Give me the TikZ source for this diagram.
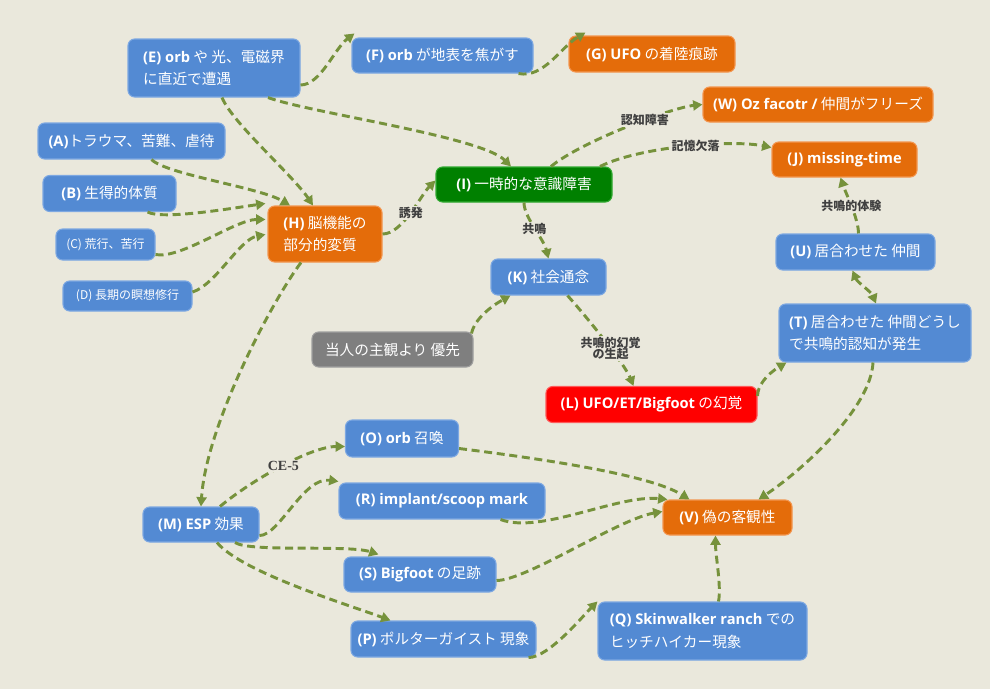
\documentclass[tikz,border=0pt]{standalone}
\usepackage{fontspec}
\setmainfont{Noto Sans CJK JP}
\newfontfamily\latf{Open Sans}
\newfontfamily\cefont{Liberation Serif}
\newcommand{\ltn}[1]{{\latf\bfseries #1}}
\usetikzlibrary{arrows.meta}
\newdimen\pxu \pxu=0.75pt
\definecolor{bg}{RGB}{234,232,220}
\definecolor{boxblue}{RGB}{83,138,211}
\definecolor{boxblueline}{RGB}{125,168,226}
\definecolor{boxorange}{RGB}{228,108,10}
\definecolor{boxorangeline}{RGB}{243,150,80}
\definecolor{boxgreen}{RGB}{0,128,0}
\definecolor{boxgreenline}{RGB}{50,170,50}
\definecolor{boxred}{RGB}{255,0,0}
\definecolor{boxredline}{RGB}{255,90,90}
\definecolor{boxgray}{RGB}{127,127,127}
\definecolor{boxgrayline}{RGB}{160,160,160}
\definecolor{arrowgreen}{RGB}{118,146,60}
\definecolor{labelgray}{RGB}{64,64,64}
\begin{document}
\begin{tikzpicture}[x=0.75pt,y=-0.75pt,
  nbox/.style={rounded corners=5pt, text=white, align=left, inner xsep=3pt, inner ysep=2pt,
    font=\fontsize{11}{17}\selectfont, line width=0.8pt},
  bluebox/.style={nbox, fill=boxblue, draw=boxblueline},
  smallblue/.style={bluebox, font=\fontsize{9}{12}\selectfont},
  orangebox/.style={nbox, fill=boxorange, draw=boxorangeline},
  greenbox/.style={nbox, fill=boxgreen, draw=boxgreenline},
  redbox/.style={nbox, fill=boxred, draw=boxredline},
  graybox/.style={nbox, fill=boxgray, draw=boxgrayline},
  sz/.style 2 args={minimum width=#1\pxu, minimum height=#2\pxu},
  conn/.style={draw=arrowgreen, line width=2.2pt, dash pattern=on 6pt off 3.5pt,
    -{Triangle[length=7pt,width=7.5pt]}},
  biconn/.style={draw=arrowgreen, line width=2.2pt, dash pattern=on 6pt off 3.5pt,
    {Triangle[length=7pt,width=7.5pt]}-{Triangle[length=7pt,width=7.5pt]}},
  lbl/.style={fill=bg, inner sep=1pt, text=labelgray, align=center,
    font=\fontsize{9}{10}\selectfont\bfseries},
]
\fill[bg] (0,0) rectangle (990,689);
\useasboundingbox (0,0) rectangle (990,689);

% nodes
\node[bluebox, sz={172}{58}] (E) at (214,68) {\ltn{(E) orb} や 光、電磁界\\ に直近で遭遇};
\node[bluebox, sz={181}{35}] (F) at (442.5,55.5) {\ltn{(F) orb} が地表を焦がす};
\node[orangebox, sz={166}{36}] (G) at (652,54) {\ltn{(G) UFO} の着陸痕跡};
\node[orangebox, sz={230}{35}] (W) at (818,104.5) {\ltn{(W) Oz facotr /} 仲間がフリーズ};
\node[orangebox, sz={145}{35}] (J) at (844.5,159.5) {\ltn{(J) missing-time}};
\node[bluebox, sz={187}{36}] (A) at (131.5,141) {\ltn{(A)}トラウマ、苦難、虐待};
\node[bluebox, sz={133}{36}] (B) at (109.5,193.5) {\ltn{(B)} 生得的体質};
\node[smallblue, sz={99}{31}] (C) at (105.5,244.5) {(C) 荒行、苦行};
\node[smallblue, sz={129}{30}] (D) at (127.5,296) {(D) 長期の瞑想修行};
\node[orangebox, sz={114}{56}] (H) at (325,234) {\ltn{(H)} 脳機能の\\部分的変質};
\node[greenbox, sz={176}{35}] (I) at (524,184.5) {\ltn{(I)} 一時的な意識障害};
\node[bluebox, sz={115}{36}] (K) at (548.5,277) {\ltn{(K)} 社会通念};
\node[graybox, sz={161}{35}] (N) at (392.5,349.5) {当人の主観より 優先};
\node[redbox, sz={211}{36}] (L) at (651.5,404.5) {\ltn{(L) UFO/ET/Bigfoot} の幻覚};
\node[bluebox, sz={159}{36}] (U) at (855.5,252) {\ltn{(U)} 居合わせた 仲間};
\node[bluebox, sz={192}{58}] (T) at (875,333) {\ltn{(T)} 居合わせた 仲間どうし\\で共鳴的認知が発生};
\node[bluebox, sz={113}{37}] (O) at (402,438.5) {\ltn{(O) orb} 召喚};
\node[bluebox, sz={206}{36}] (R) at (442,501) {\ltn{(R) implant/scoop mark}};
\node[bluebox, sz={152}{35}] (S) at (420,574.5) {\ltn{(S) Bigfoot} の足跡};
\node[bluebox, sz={185}{36}] (P) at (443.5,639) {\ltn{(P)} ポルターガイスト 現象};
\node[bluebox, sz={209}{58}] (Q) at (702.5,631) {\ltn{(Q) Skinwalker ranch} での\\ヒッチハイカー現象};
\node[bluebox, sz={116}{35}] (M) at (201,524.5) {\ltn{(M) ESP} 効果};
\node[orangebox, sz={129}{35}] (V) at (727.5,517.5) {\ltn{(V)} 偽の客観性};

% connectors
\draw[conn] ([shift={(0,17)}]E.east) .. controls +(20,0) and +(-20,15) .. ([shift={(3,-4)}]F.north west);
\draw[conn] ([shift={(-15,0)}]F.south east) .. controls +(25,5) and +(-25,15) .. ([shift={(17,-3)}]G.north west);
\draw[conn] ([shift={(54,0)}]E.south) .. controls +(40,15) and +(-30,-30) .. ([shift={(-13,0)}]I.north);
\draw[conn] ([shift={(8,0)}]E.south) .. controls +(10,25) and +(-20,-30) .. ([shift={(-12,0)}]H.north);
\draw[conn] ([shift={(20,0)}]A.south) .. controls +(15,15) and +(-30,-18) .. ([shift={(-35,0)}]H.north);
\draw[conn] ([shift={(-29,0)}]B.south east) .. controls +(15,8) and +(-35,5) .. ([shift={(-2,-2)}]H.north west);
\draw[conn] ([shift={(0,-6)}]C.south east) .. controls +(25,5) and +(-30,0) .. ([shift={(-2,14)}]H.north west);
\draw[conn] ([shift={(0,-4)}]D.east) .. controls +(23,-7) and +(-26,5) .. ([shift={(-2,29)}]H.north west);
\draw[conn] (H.east) .. controls +(20,0) and +(-15,15) .. ([shift={(0,-4)}]I.west)
  node[lbl, pos=0.5] {誘発};
\draw[conn] ([shift={(27,0)}]I.north) .. controls +(30,-25) and +(-30,3) .. (W.west)
  node[lbl, pos=0.6] {認知障害};
\draw[conn] ([shift={(76,0)}]I.north) .. controls +(40,-20) and +(-40,-8) .. ([shift={(0,-12)}]J.west)
  node[lbl, pos=0.55] {記憶欠落};
\draw[conn] (I.south) .. controls +(0,15) and +(-5,-20) .. (K.north)
  node[lbl, pos=0.5] {共鳴};
\draw[conn] ([shift={(-2,2)}]N.north east) .. controls +(3,-15) and +(-18,10) .. ([shift={(20,0)}]K.south west);
\draw[conn] ([shift={(19,0)}]K.south) .. controls +(25,28) and +(-8,-20) .. ([shift={(-18,0)}]L.north)
  node[lbl, pos=0.55] {共鳴的幻覚\\[-2pt]の生起};
\draw[conn] ([shift={(0,10)}]L.north east) .. controls +(0,-10) and +(-20,12) .. ([shift={(8,0)}]T.south west);
\draw[biconn] ([shift={(-3,0)}]U.south) .. controls +(5,12) and +(-5,-12) .. ([shift={(1,0)}]T.north);
\draw[conn] ([shift={(3,0)}]U.north) .. controls +(0,-15) and +(5,15) .. ([shift={(-4,0)}]J.south)
  node[lbl, pos=0.5] {共鳴的体験};
\draw[conn] ([shift={(-2,0)}]T.south) .. controls +(-2,45) and +(45,-30) .. ([shift={(-34,0)}]V.north east);
\draw[conn] ([shift={(-24,0)}]H.south) .. controls +(-30,40) and +(5,-80) .. (M.north);
\draw[conn] ([shift={(19,0)}]M.north) .. controls +(30,-25) and +(-35,0) .. ([shift={(0,8)}]O.west)
  node[lbl, pos=0.52, font=\cefont\fontsize{10.5}{11}\selectfont\bfseries] {CE-5};
\draw[conn] ([shift={(0,-7)}]M.south east) .. controls +(20,0) and +(-35,-5) .. ([shift={(0,-1)}]R.north west);
\draw[conn] ([shift={(34,0)}]M.south) .. controls +(15,10) and +(-30,-10) .. ([shift={(35,-2)}]S.north west);
\draw[conn] ([shift={(16,0)}]M.south) .. controls +(25,30) and +(-40,-15) .. ([shift={(40,0)}]P.north west);
\draw[conn] ([shift={(0,10)}]O.east) .. controls +(80,10) and +(-40,-25) .. ([shift={(27,0)}]V.north west);
\draw[conn] ([shift={(-45,0)}]R.south east) .. controls +(40,15) and +(-50,-5) .. ([shift={(5,0)}]V.north west);
\draw[conn] ([shift={(0,6)}]S.east) .. controls +(30,0) and +(-45,8) .. ([shift={(0,-6)}]V.west);
\draw[conn] ([shift={(-8,0)}]P.south east) .. controls +(20,0) and +(-15,15) .. (Q.north west);
\draw[conn] ([shift={(16,0)}]Q.north) .. controls +(3,-15) and +(0,20) .. ([shift={(-12,0)}]V.south);
\end{tikzpicture}
\end{document}
